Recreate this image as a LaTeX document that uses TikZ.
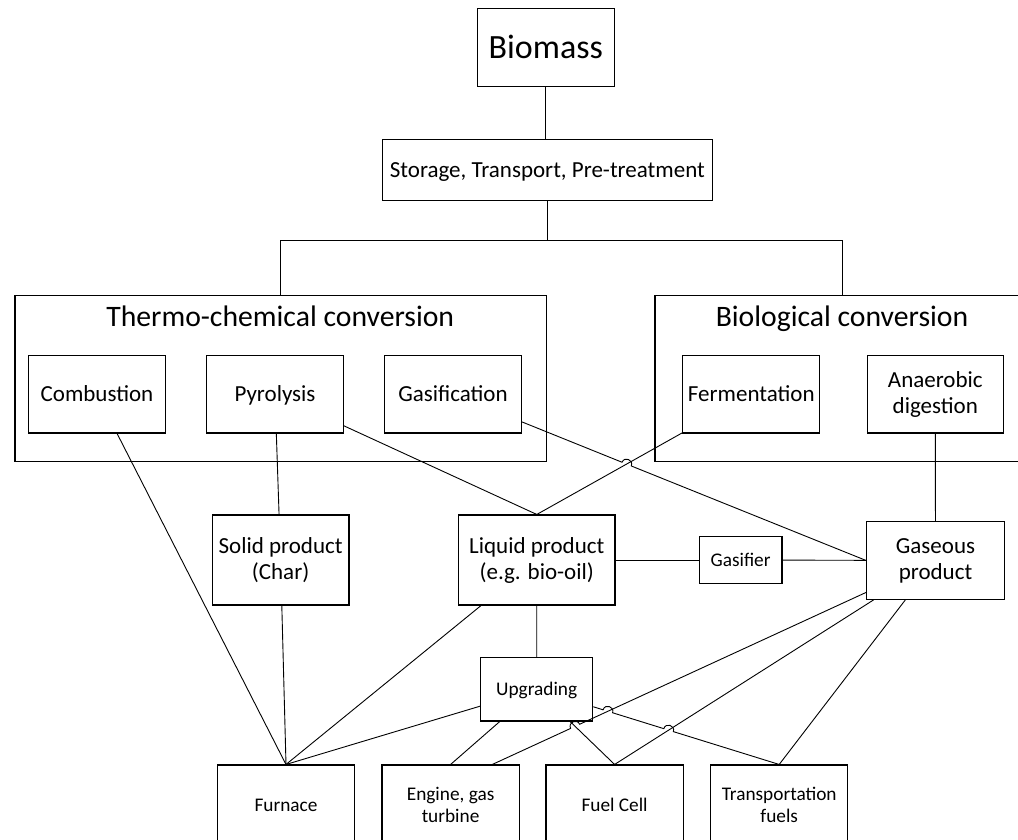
\documentclass[tikz,border=0pt]{standalone}
\usepackage{fontspec}
\setmainfont{Carlito}
\usetikzlibrary{calc,intersections}
\begin{document}
\begin{tikzpicture}[x=1pt,y=-1pt,
  box/.style={draw, line width=1.1pt, inner sep=0pt, align=center, font=\fontsize{23}{26}\selectfont},
  sbox/.style={box, font=\fontsize{19.3}{22.5}\selectfont},
  one/.style={text height=19.1pt, text depth=4.6pt},
  ones/.style={text height=16.06pt, text depth=3.86pt},
  oneb/.style={text height=28.3pt, text depth=6.8pt},
  ttl/.style={anchor=base, inner sep=0pt, font=\fontsize{29.7}{34}\selectfont},
  conn/.style={line width=0.9pt},
  hopup/.style={bend left=90, looseness=1.7},
  hopdn/.style={bend right=90, looseness=1.7}]
\clip (0,0) rectangle (1018,839);
\fill[white] (0,0) rectangle (1018,839);

% top
\node[box, oneb, minimum width=137, minimum height=78.4, font=\fontsize{34}{40}\selectfont] (bio) at (545.8,47.5) {Biomass};
\node[box, one, minimum width=330, minimum height=61.7] (sto) at (547.3,169.9) {Storage, Transport, Pre-treatment};

% conversion groups
\node[box, minimum width=531.4, minimum height=166.7] (tcc) at (280.7,378.4) {};
\node[ttl] (tcct) at (280.2,326.7) {Thermo-chemical conversion};
\node[box, minimum width=374, minimum height=166.7] (bcc) at (842,378.4) {};
\node[ttl] (bcct) at (842,326.7) {Biological conversion};

\node[box, one, minimum width=137, minimum height=77.5] (com) at (97,394.2) {Combustion};
\node[box, one, minimum width=137, minimum height=77.5] (pyr) at (275,394.2) {Pyrolysis};
\node[box, one, minimum width=137, minimum height=77.5] (gsf) at (453,394.2) {Gasification};
\node[box, one, minimum width=137, minimum height=77.5] (fer) at (751.3,394.2) {Fermentation};
\node[box, minimum width=136, minimum height=77.5] (ana) at (935.3,394.2) {Anaerobic\\digestion};

% products
\node[box, minimum width=136.7, minimum height=90] (sol) at (280.6,560) {Solid product\\(Char)};
\node[box, minimum width=156.3, minimum height=90] (liq) at (536.8,560) {Liquid product\\(e.g. bio-oil)};
\node[sbox, ones, minimum width=82.7, minimum height=46.6] (gsr) at (740.6,560) {Gasifier};
\node[box, minimum width=137.6, minimum height=77.6] (gas) at (935.5,560.5) {Gaseous\\product};
\node[sbox, ones, minimum width=112, minimum height=63.5] (upg) at (536.7,689.2) {Upgrading};

% end uses
\node[sbox, ones, minimum width=137.3, minimum height=80] (fur) at (286,805) {Furnace};
\node[sbox, minimum width=137.3, minimum height=80] (eng) at (450.6,805) {Engine, gas\\turbine};
\node[sbox, ones, minimum width=137.3, minimum height=80] (fc) at (614.6,805) {Fuel Cell};
\node[sbox, minimum width=137.3, minimum height=80] (tra) at (779.2,805) {Transportation\\fuels};

% tree connectors
\coordinate (j) at (546.7,240);
\draw[conn] (bio.south) -- (bio.south |- sto.north);
\draw[conn] (sto.south) -- (sto.south |- j);
\draw[conn] (tcc.north) -- (tcc.north |- j) -- (bcc.north |- j) -- (bcc.north);

% plain connectors
\draw[conn] (com) -- (fur.north);
\draw[conn] (pyr) -- (sol);
\draw[conn] (pyr) -- (liq.north);
\draw[conn] (fer) -- (liq.north);
\draw[conn] (ana) -- (gas);
\draw[conn] (sol) -- (fur.north);
\draw[conn] (liq) -- (fur.north);
\draw[conn] (liq) -- (upg);
\draw[conn] (liq) -- (gsr);
\draw[conn] (gsr) -- (gas);
\draw[conn] (upg) -- (fur.north);
\draw[conn] (upg) -- (eng.north);
\draw[conn] (upg) -- (fc.north);
\draw[conn] (gas) -- (fc.north);
\draw[conn] (gas) -- (tra.north);

% connectors with line hops
\coordinate (engR) at ($(eng.north)+(41.7,0)$);
\path[name path=pFL] (fer.center) -- (liq.north);
\path[name path=pGG] (gsf.center) -- (gas.west);
\path[name path=pUT] (upg.center) -- (tra.north);
\path[name path=pGE] (gas.center) -- (engR);
\path[name path=pGF] (gas.center) -- (fc.north);
\path[name path=pUF] (upg.center) -- (fc.north);
\path[name intersections={of=pFL and pGG, by=x1}];
\path[name intersections={of=pUT and pGE, by=x2}];
\path[name intersections={of=pUT and pGF, by=x3}];
\path[name intersections={of=pGE and pUF, by=x4}];

\draw[conn] (gsf) -- ($(x1)!5pt!(gsf.center)$) to[hopup] ($(x1)!5pt!(gas.west)$) -- (gas.west);
\draw[conn] (upg) -- ($(x2)!5pt!(upg.center)$) to[hopup] ($(x2)!5pt!(tra.north)$)
  -- ($(x3)!5pt!(upg.center)$) to[hopup] ($(x3)!5pt!(tra.north)$) -- (tra.north);
\draw[conn] (gas) -- ($(x4)!5pt!(gas.center)$) to[hopdn] ($(x4)!5pt!(engR)$) -- (engR);
\end{tikzpicture}
\end{document}
